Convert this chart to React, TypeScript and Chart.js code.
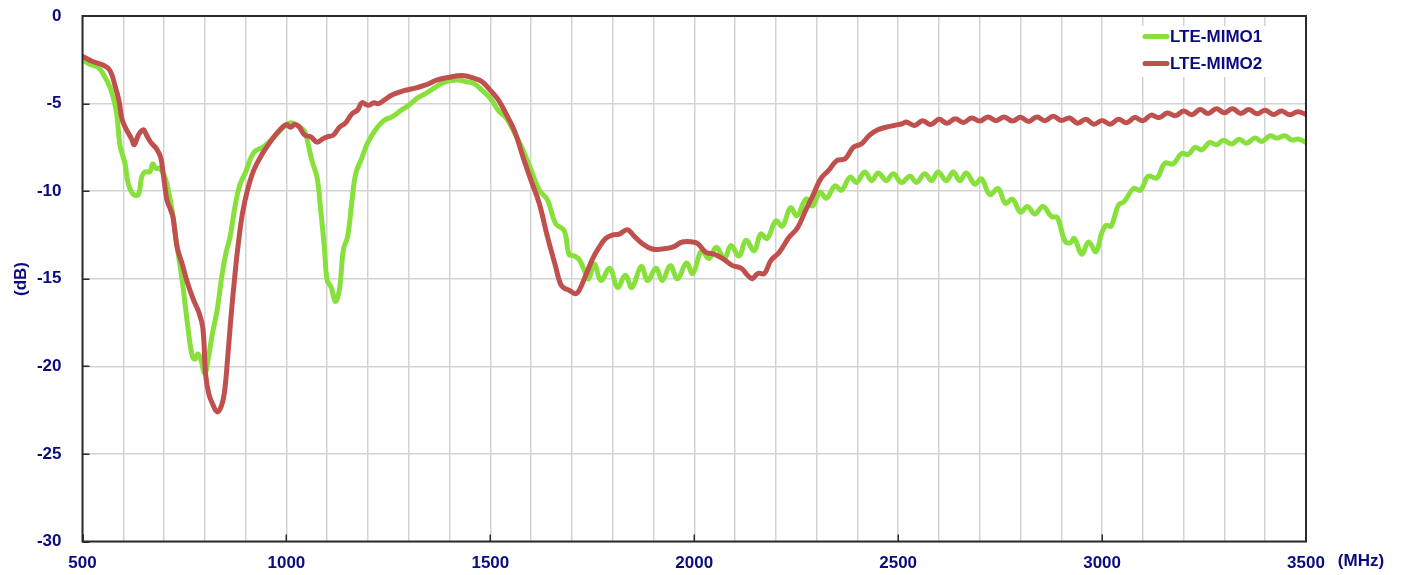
import React, { useEffect, useRef } from "react";
import { Chart, registerables } from "chart.js";

Chart.register(...registerables);

const SERIES_NAMES = ["LTE-MIMO1", "LTE-MIMO2"];
const X_TICKS = [500, 1000, 1500, 2000, 2500, 3000, 3500];
const Y_TICKS = [0, -5, -10, -15, -20, -25, -30];
const X_UNIT = "(MHz)";
const Y_UNIT = "(dB)";

const FREQ_MIMO1 = [
  500, 518, 539, 555, 567, 575, 584, 592, 604, 612, 625, 637, 645, 653, 665, 672, 680, 690, 702, 710,
  719, 731, 745, 757, 768, 775, 783, 790, 800, 808, 818, 830, 842, 852, 862, 873, 885, 900, 920, 945,
  970, 1000, 1015, 1030, 1045, 1055, 1063, 1075, 1085, 1093, 1100, 1110, 1120, 1130, 1140, 1150, 1160, 1170, 1185, 1200,
  1220, 1240, 1260, 1280, 1300, 1320, 1340, 1360, 1380, 1400, 1420, 1440, 1460, 1480, 1500, 1520, 1540, 1560, 1580, 1600,
  1620, 1640, 1660, 1681, 1693, 1706, 1718, 1730, 1741, 1755, 1771, 1793, 1812, 1831, 1847, 1870, 1886, 1906, 1922, 1941,
  1959, 1981, 1996, 2018, 2036, 2054, 2074, 2090, 2110, 2127, 2147, 2163, 2179, 2200, 2216, 2236, 2252, 2274, 2290, 2308,
  2324, 2345, 2361, 2382, 2398, 2418, 2435, 2451, 2471, 2488, 2508, 2529, 2545, 2565, 2582, 2598, 2618, 2635, 2651, 2667,
  2688, 2704, 2725, 2745, 2763, 2780, 2800, 2817, 2835, 2855, 2876, 2890, 2909, 2922, 2932, 2950, 2967, 2985, 2999, 3010,
  3022, 3040, 3054, 3077, 3094, 3113, 3134, 3154, 3174, 3195, 3211, 3228, 3244, 3264, 3281, 3297, 3318, 3336, 3354, 3375,
  3391, 3412, 3428, 3448, 3465, 3481, 3500,
];
const DB_MIMO1 = [
  -2.5, -2.76, -2.95, -3.48, -4.05, -4.62, -5.6, -7.4, -8.4, -9.55, -10.2, -10.2, -9.2, -8.9, -8.9, -8.45, -8.7, -8.7, -9.2, -9.9,
  -11.0, -13.0, -15.2, -17.5, -19.3, -19.6, -19.3, -19.6, -20.4, -19.6, -18.2, -16.8, -14.8, -13.5, -12.6, -11.0, -9.7, -8.9, -7.8, -7.45,
  -6.9, -6.2, -6.1, -6.3, -6.6, -7.5, -8.3, -9.2, -11.3, -13.2, -15.1, -15.5, -16.3, -15.6, -13.3, -12.6, -10.7, -9.0, -8.1, -7.2,
  -6.45, -5.95, -5.75, -5.4, -5.1, -4.7, -4.45, -4.15, -3.85, -3.7, -3.65, -3.75, -3.85, -4.25, -4.7, -5.4, -5.85, -6.7, -7.65, -8.8,
  -9.95, -10.5, -11.85, -12.25, -13.6, -13.7, -13.9, -14.5, -15.0, -14.15, -15.1, -14.4, -15.5, -14.8, -15.5, -14.3, -15.1, -14.4, -15.1, -14.25,
  -15.0, -14.1, -14.7, -13.4, -13.85, -13.2, -13.85, -13.1, -13.7, -12.8, -13.4, -12.45, -12.7, -11.7, -12.0, -10.95, -11.4, -10.45, -10.85, -10.05,
  -10.4, -9.7, -9.95, -9.2, -9.5, -8.9, -9.4, -8.96, -9.4, -9.0, -9.5, -9.15, -9.5, -9.0, -9.4, -8.9, -9.4, -8.9, -9.4, -8.96,
  -9.6, -9.3, -10.2, -9.85, -10.7, -10.45, -11.2, -10.87, -11.3, -10.87, -11.45, -11.5, -12.85, -12.95, -12.7, -13.6, -12.9, -13.45, -12.4, -11.95,
  -12.0, -10.8, -10.6, -9.85, -9.95, -9.15, -9.25, -8.4, -8.44, -7.85, -7.9, -7.5, -7.64, -7.22, -7.35, -7.1, -7.3, -7.03, -7.26, -6.97,
  -7.16, -6.84, -6.97, -6.84, -7.07, -7.03, -7.22,
];

const FREQ_MIMO2 = [
  500, 525, 550, 567, 580, 590, 597, 608, 620, 627, 637, 649, 657, 667, 682, 692, 699, 707, 715, 722,
  732, 745, 757, 772, 785, 795, 802, 810, 820, 830, 840, 848, 856, 864, 872, 880, 892, 905, 920, 940,
  960, 980, 1000, 1010, 1020, 1030, 1045, 1060, 1075, 1090, 1100, 1115, 1130, 1145, 1160, 1175, 1185, 1200, 1215, 1225,
  1240, 1260, 1290, 1310, 1340, 1370, 1400, 1430, 1460, 1480, 1500, 1520, 1540, 1560, 1580, 1600, 1620, 1640, 1660, 1672,
  1682, 1693, 1708, 1718, 1734, 1751, 1767, 1783, 1800, 1816, 1836, 1852, 1873, 1897, 1922, 1947, 1971, 1996, 2009, 2029,
  2049, 2070, 2094, 2115, 2131, 2142, 2156, 2172, 2188, 2208, 2232, 2253, 2273, 2290, 2310, 2330, 2350, 2370, 2390, 2410,
  2430, 2450, 2470, 2490, 2510, 2520, 2540, 2560, 2580, 2600, 2620, 2640, 2660, 2680, 2700, 2720, 2740, 2760, 2780, 2800,
  2820, 2840, 2860, 2880, 2900, 2920, 2940, 2960, 2980, 3000, 3020, 3040, 3060, 3080, 3100, 3120, 3140, 3160, 3180, 3200,
  3220, 3240, 3260, 3280, 3300, 3320, 3340, 3360, 3380, 3400, 3420, 3440, 3460, 3480, 3500,
];
const DB_MIMO2 = [
  -2.3, -2.6, -2.8, -3.1, -4.0, -4.9, -5.9, -6.5, -7.0, -7.35, -6.8, -6.5, -6.8, -7.2, -7.6, -8.1, -9.2, -10.5, -11.0, -11.5,
  -13.2, -14.2, -15.2, -16.2, -16.9, -17.8, -20.5, -21.6, -22.2, -22.6, -22.3, -21.5, -19.5, -17.2, -15.2, -13.4, -11.3, -9.9, -8.8, -7.9,
  -7.2, -6.6, -6.2, -6.35, -6.2, -6.3, -6.8, -6.9, -7.2, -7.0, -6.9, -6.8, -6.35, -6.1, -5.6, -5.35, -4.95, -5.1, -4.95, -5.0,
  -4.8, -4.5, -4.25, -4.15, -3.95, -3.65, -3.5, -3.4, -3.55, -3.75, -4.25, -4.8, -5.65, -6.6, -8.05, -9.4, -10.7, -12.6, -14.3, -15.3,
  -15.55, -15.65, -15.85, -15.65, -14.8, -13.85, -13.2, -12.7, -12.5, -12.45, -12.2, -12.55, -13.0, -13.3, -13.3, -13.2, -12.9, -12.9, -13.0, -13.5,
  -13.6, -13.85, -14.25, -14.4, -14.8, -15.0, -14.7, -14.7, -13.95, -13.5, -12.65, -12.1, -11.1, -10.3, -9.3, -8.8, -8.25, -8.15, -7.5, -7.3,
  -6.8, -6.5, -6.35, -6.25, -6.15, -6.05, -6.25, -5.98, -6.2, -5.9, -6.12, -5.86, -6.08, -5.82, -6.0, -5.76, -5.98, -5.76, -6.0, -5.78,
  -6.02, -5.76, -5.98, -5.72, -5.96, -5.82, -6.12, -5.9, -6.18, -5.96, -6.18, -5.9, -6.1, -5.8, -5.98, -5.66, -5.8, -5.54, -5.7, -5.42,
  -5.64, -5.34, -5.56, -5.3, -5.52, -5.3, -5.56, -5.34, -5.58, -5.38, -5.62, -5.42, -5.64, -5.46, -5.62,
];

const GREEN = "#88e03c";
const RED = "#c0504d";
const NAVY = "#0b0b80";
const FONT = "'Liberation Sans', Arial, sans-serif";

function toPoints(xs: number[], ys: number[]) {
  return xs.map((x, i) => ({ x, y: ys[i] }));
}

const decorPlugin = {
  id: "decor",
  afterDatasetsDraw(chart: any) {
    const { ctx, chartArea: a, scales } = chart;
    const x = scales.x;
    const y = scales.y;
    ctx.save();
    // legend background
    ctx.fillStyle = "#ffffff";
    ctx.fillRect(1139, 26, 137, 51);
    // frame
    ctx.strokeStyle = "#2b2b2b";
    ctx.lineWidth = 2;
    ctx.strokeRect(a.left, a.top, a.right - a.left, a.bottom - a.top);
    // inner tick marks
    ctx.lineWidth = 1.5;
    ctx.beginPath();
    for (const v of Y_TICKS) {
      const py = Math.round(y.getPixelForValue(v)) + 0.25;
      ctx.moveTo(a.left, py);
      ctx.lineTo(a.left + 7, py);
    }
    for (const v of X_TICKS) {
      const px = Math.round(x.getPixelForValue(v)) + 0.25;
      ctx.moveTo(px, a.bottom);
      ctx.lineTo(px, a.bottom - 7);
    }
    ctx.stroke();

    // legend
    const rows = [
      { name: SERIES_NAMES[0], color: GREEN, y: 36.5 },
      { name: SERIES_NAMES[1], color: RED, y: 63.5 },
    ];
    ctx.font = `bold 17px ${FONT}`;
    ctx.textBaseline = "middle";
    ctx.textAlign = "left";
    for (const r of rows) {
      ctx.strokeStyle = r.color;
      ctx.lineWidth = 5;
      ctx.lineCap = "round";
      ctx.beginPath();
      ctx.moveTo(1145, r.y);
      ctx.lineTo(1167, r.y);
      ctx.stroke();
      ctx.fillStyle = NAVY;
      ctx.fillText(r.name, 1170, r.y + 1);
    }

    // units
    ctx.fillStyle = NAVY;
    ctx.font = `bold 17px ${FONT}`;
    ctx.textAlign = "center";
    ctx.textBaseline = "middle";
    ctx.fillText(X_UNIT, 1361, 561);
    ctx.save();
    ctx.translate(21, 279);
    ctx.rotate(-Math.PI / 2);
    ctx.fillText(Y_UNIT, 0, 0);
    ctx.restore();
    ctx.restore();
  },
};

export default function App() {
  const canvasRef = useRef<HTMLCanvasElement | null>(null);

  useEffect(() => {
    document.body.style.margin = "0";
    const canvas = canvasRef.current;
    if (!canvas) return;
    const chart = new Chart(canvas, {
      type: "line",
      data: {
        datasets: [
          {
            label: SERIES_NAMES[0],
            data: toPoints(FREQ_MIMO1, DB_MIMO1),
            borderColor: GREEN,
            borderWidth: 5,
            pointRadius: 0,
            tension: 0.4,
            fill: false,
            order: 1,
          },
          {
            label: SERIES_NAMES[1],
            data: toPoints(FREQ_MIMO2, DB_MIMO2),
            borderColor: RED,
            borderWidth: 5,
            pointRadius: 0,
            tension: 0.4,
            fill: false,
            order: 0,
          },
        ],
      },
      options: {
        animation: false,
        responsive: true,
        maintainAspectRatio: false,
        layout: { padding: { left: 0, top: 16, right: 95, bottom: 0 } },
        plugins: {
          legend: { display: false },
          tooltip: { enabled: false },
        },
        scales: {
          x: {
            type: "linear",
            min: 500,
            max: 3500,
            afterFit: (s: any) => {
              s.height = 33.5;
              s.paddingLeft = 0;
              s.paddingRight = 0;
            },
            border: { display: false },
            grid: { color: "#d3d3d3", lineWidth: 1.5, drawTicks: false },
            ticks: {
              stepSize: 100,
              autoSkip: false,
              maxRotation: 0,
              padding: 12,
              color: NAVY,
              font: { family: FONT, size: 17, weight: "bold" },
              callback: (v: any) => (X_TICKS.includes(Number(v)) ? String(v) : ""),
            },
          },
          y: {
            type: "linear",
            min: -30,
            max: 0,
            afterFit: (s: any) => {
              s.width = 82.5;
              s.paddingTop = 0;
              s.paddingBottom = 0;
            },
            border: { display: false },
            grid: { color: "#d3d3d3", lineWidth: 1.5, drawTicks: false },
            ticks: {
              stepSize: 5,
              padding: 21,
              color: NAVY,
              font: { family: FONT, size: 17, weight: "bold" },
              callback: (v: any) => String(v),
            },
          },
        },
      },
      plugins: [decorPlugin],
    });
    return () => chart.destroy();
  }, []);

  return (
    <div style={{ position: "fixed", left: 0, top: 0, width: 1401, height: 575, background: "#fff" }}>
      <canvas ref={canvasRef} />
    </div>
  );
}
